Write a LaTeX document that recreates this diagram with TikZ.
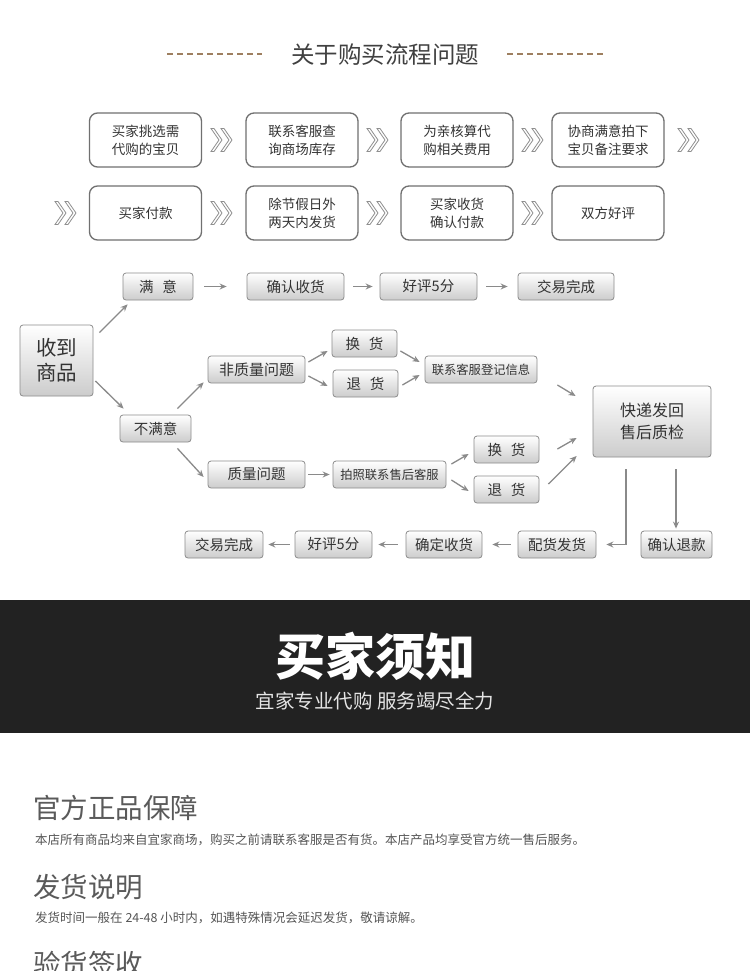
\documentclass[tikz,border=0pt]{standalone}
\usepackage{fontspec}
\setmainfont{Noto Sans CJK SC}
\usetikzlibrary{arrows.meta,shadings}
\definecolor{txt}{HTML}{333333}
\definecolor{bord}{HTML}{8C8C8C}
\definecolor{sbord}{HTML}{707070}
\definecolor{arrc}{HTML}{8A8A8A}
\definecolor{chevc}{HTML}{8F8F8F}
\definecolor{dashc}{HTML}{9E7F60}
\definecolor{bandc}{HTML}{222222}
\definecolor{headc}{HTML}{5A5A5A}
\definecolor{descc}{HTML}{555555}
\newcommand\myfs[2]{\fontsize{#1}{#2}\selectfont}
\tikzset{
  stepbox/.style={draw=sbord, line width=1.3pt, rounded corners=8pt, fill=white,
    minimum width=112pt, minimum height=54pt, align=center, text=txt,
    font=\myfs{13.5}{18}, inner sep=0pt},
  flowbox/.style={draw=bord, line width=0.8pt, rounded corners=3pt,
    top color=white, bottom color=black!20, text=txt, minimum height=27pt,
    align=center, inner sep=0pt, font=\myfs{14.5}{18}},
  arr/.style={draw=arrc, line width=1.3pt, -{Stealth[length=7pt,width=6pt]}},
  chev/.pic={
    \foreach \dx in {0,10}{
      \draw[chevc, line width=0.8pt, fill=white, line join=miter]
        (\dx-11,-11.5) -- (\dx-8,-11.5) -- (\dx,0) -- (\dx-8,11.5)
        -- (\dx-11,11.5) -- (\dx-3,0) -- cycle;
    }
  }
}
\begin{document}
\begin{tikzpicture}[x=1pt,y=-1pt]
\path[use as bounding box, fill=white] (0,0) rectangle (750,971);
\begin{scope}
\clip (0,0) rectangle (750,971);

% ---------- title ----------
\node[text=black!75, font=\myfs{23.5}{26}, inner sep=0pt] (title) at (385,55) {关于购买流程问题};
\coordinate (dl1) at (167,54); \coordinate (dl2) at (262,54);
\coordinate (dr1) at (507,54); \coordinate (dr2) at (603,54);
\draw[dashc, line width=1.2pt, dash pattern=on 6pt off 4pt] (dl1) -- (dl2);
\draw[dashc, line width=1.2pt, dash pattern=on 6pt off 4pt] (dr1) -- (dr2);

% ---------- step boxes ----------
\node[stepbox] (s1) at (145.5,140) {买家挑选需\\代购的宝贝};
\node[stepbox] (s2) at (302,140) {联系客服查\\询商场库存};
\node[stepbox] (s3) at (457,140) {为亲核算代\\购相关费用};
\node[stepbox] (s4) at (608,140) {协商满意拍下\\宝贝备注要求};
\node[stepbox] (s5) at (145.5,213) {买家付款};
\node[stepbox] (s6) at (302,213) {除节假日外\\两天内发货};
\node[stepbox] (s7) at (457,213) {买家收货\\确认付款};
\node[stepbox] (s8) at (608,213) {双方好评};
\pic at (222,140) {chev};
\pic at (378,140) {chev};
\pic at (533,140) {chev};
\pic at (689,140) {chev};
\pic at (66,213) {chev};
\pic at (222,213) {chev};
\pic at (378,213) {chev};
\pic at (533,213) {chev};

% ---------- flow chart ----------
\node[flowbox, minimum width=73pt, minimum height=71pt, font=\myfs{20.5}{25}] (in) at (56.5,360.5) {收到\\商品};
\node[flowbox, minimum width=70pt] (man) at (158,286.5) {满\hspace{0.6em}意};
\node[flowbox, minimum width=97pt] (qr) at (295.5,286.5) {确认收货};
\node[flowbox, minimum width=97pt] (hp) at (428.5,286.5) {好评5分};
\node[flowbox, minimum width=96pt] (jy) at (566,286.5) {交易完成};
\node[flowbox, minimum width=71pt] (bmy) at (155.5,428.5) {不满意};
\node[flowbox, minimum width=97pt, font=\myfs{15}{18}] (fz) at (256.5,369.5) {非质量问题};
\node[flowbox, minimum width=65pt] (hh1) at (364.5,343.5) {换\hspace{0.6em}货};
\node[flowbox, minimum width=65pt] (th1) at (365.5,383.5) {退\hspace{0.6em}货};
\node[flowbox, minimum width=112pt, font=\myfs{12.3}{15}] (lx) at (481,369.5) {联系客服登记信息};
\node[flowbox, minimum width=118pt, minimum height=71pt, font=\myfs{16}{22}] (kd) at (652,421.5) {快递发回\\售后质检};
\node[flowbox, minimum width=97pt] (zl) at (256.5,474.5) {质量问题};
\node[flowbox, minimum width=113pt, font=\myfs{12.3}{15}] (pz) at (389.5,474.5) {拍照联系售后客服};
\node[flowbox, minimum width=65pt] (hh2) at (506.5,449.5) {换\hspace{0.6em}货};
\node[flowbox, minimum width=65pt] (th2) at (506.5,489.5) {退\hspace{0.6em}货};
\node[flowbox, minimum width=71pt] (qrtk) at (676.5,544.5) {确认退款};
\node[flowbox, minimum width=78pt] (ph) at (557,544.5) {配货发货};
\node[flowbox, minimum width=76pt] (qd) at (444,544.5) {确定收货};
\node[flowbox, minimum width=77pt] (hp2) at (333.5,544.5) {好评5分};
\node[flowbox, minimum width=78pt] (jy2) at (224,544.5) {交易完成};

\draw[arr] ([shift={(6,8)}]in.north east) -- ([shift={(5,4)}]man.south west);
\draw[arr] ([shift={(2,20.5)}]in.east) -- ([shift={(4,-6)}]bmy.north west);
\draw[arr, shorten <=11pt, shorten >=20pt] (man) -- (qr);
\draw[arr, shorten <=9pt, shorten >=7pt] (qr) -- (hp);
\draw[arr, shorten <=9pt, shorten >=10pt] (hp) -- (jy);
\draw[arr] ([shift={(-14,-6)}]bmy.north east) -- ([shift={(-4,-1)}]fz.south west);
\draw[arr] ([shift={(-14,6)}]bmy.south east) -- ([shift={(-4,2.5)}]zl.west);
\draw[arr] ([shift={(3,-7.5)}]fz.east) -- ([shift={(-4,7.5)}]hh1.west);
\draw[arr] ([shift={(3,6.5)}]fz.east) -- ([shift={(-5,2.5)}]th1.west);
\draw[arr] ([shift={(3,7.5)}]hh1.east) -- ([shift={(-5,-7.5)}]lx.west);
\draw[arr] ([shift={(4,1.5)}]th1.east) -- ([shift={(-5,5.5)}]lx.west);
\draw[arr] ([shift={(20,15.5)}]lx.east) -- ([shift={(-17,-25.5)}]kd.west);
\draw[arr, shorten <=3pt, shorten >=3pt] (zl) -- (pz);
\draw[arr] ([shift={(5,-10.5)}]pz.east) -- ([shift={(-5,4.5)}]hh2.west);
\draw[arr] ([shift={(5,5.5)}]pz.east) -- ([shift={(-5,1.5)}]th2.west);
\draw[arr] ([shift={(18,-0.5)}]hh2.east) -- ([shift={(-16,16.5)}]kd.west);
\draw[arr] ([shift={(9,-5.5)}]th2.east) -- ([shift={(-16,34.5)}]kd.west);
\draw[arr] ([shift={(-26,12)}]kd.south) |- ([xshift=10pt]ph.east);
\draw[arr] ([shift={(24,12)}]kd.south) -- ([shift={(-0.5,-2)}]qrtk.north);
\draw[arr, shorten <=7pt, shorten >=10pt] (ph) -- (qd);
\draw[arr, shorten <=8pt, shorten >=6pt] (qd) -- (hp2);
\draw[arr, shorten <=5pt, shorten >=5pt] (hp2) -- (jy2);

% ---------- band ----------
\coordinate (band1) at (0,600); \coordinate (band2) at (750,733);
\fill[bandc] (band1) rectangle (band2);
\node[text=white, font=\bfseries\myfs{50}{54}, inner sep=0pt] (bt) at (375,656) {买家须知};
\node[text=black!10, font=\myfs{19.5}{22}, inner sep=0pt] (bs) at (375,701) {宜家专业代购 服务竭尽全力};

% ---------- notes ----------
\node[anchor=west, text=headc, font=\myfs{27.5}{30}, inner sep=0pt] (h1) at (33,808) {官方正品保障};
\node[anchor=west, text=descc, font=\myfs{12.5}{15}, inner sep=0pt] (d1) at (35,840) {本店所有商品均来自宜家商场，购买之前请联系客服是否有货。本店产品均享受官方统一售后服务。};
\node[anchor=west, text=headc, font=\myfs{27.5}{30}, inner sep=0pt] (h2) at (33,887) {发货说明};
\node[anchor=west, text=descc, font=\myfs{12.5}{15}, inner sep=0pt] (d2) at (35,918) {发货时间一般在 24-48 小时内，如遇特殊情况会延迟发货，敬请谅解。};
\node[anchor=west, text=headc, font=\myfs{27.5}{30}, inner sep=0pt] (h3) at (33,964) {验货签收};
\end{scope}
\end{tikzpicture}
\end{document}
